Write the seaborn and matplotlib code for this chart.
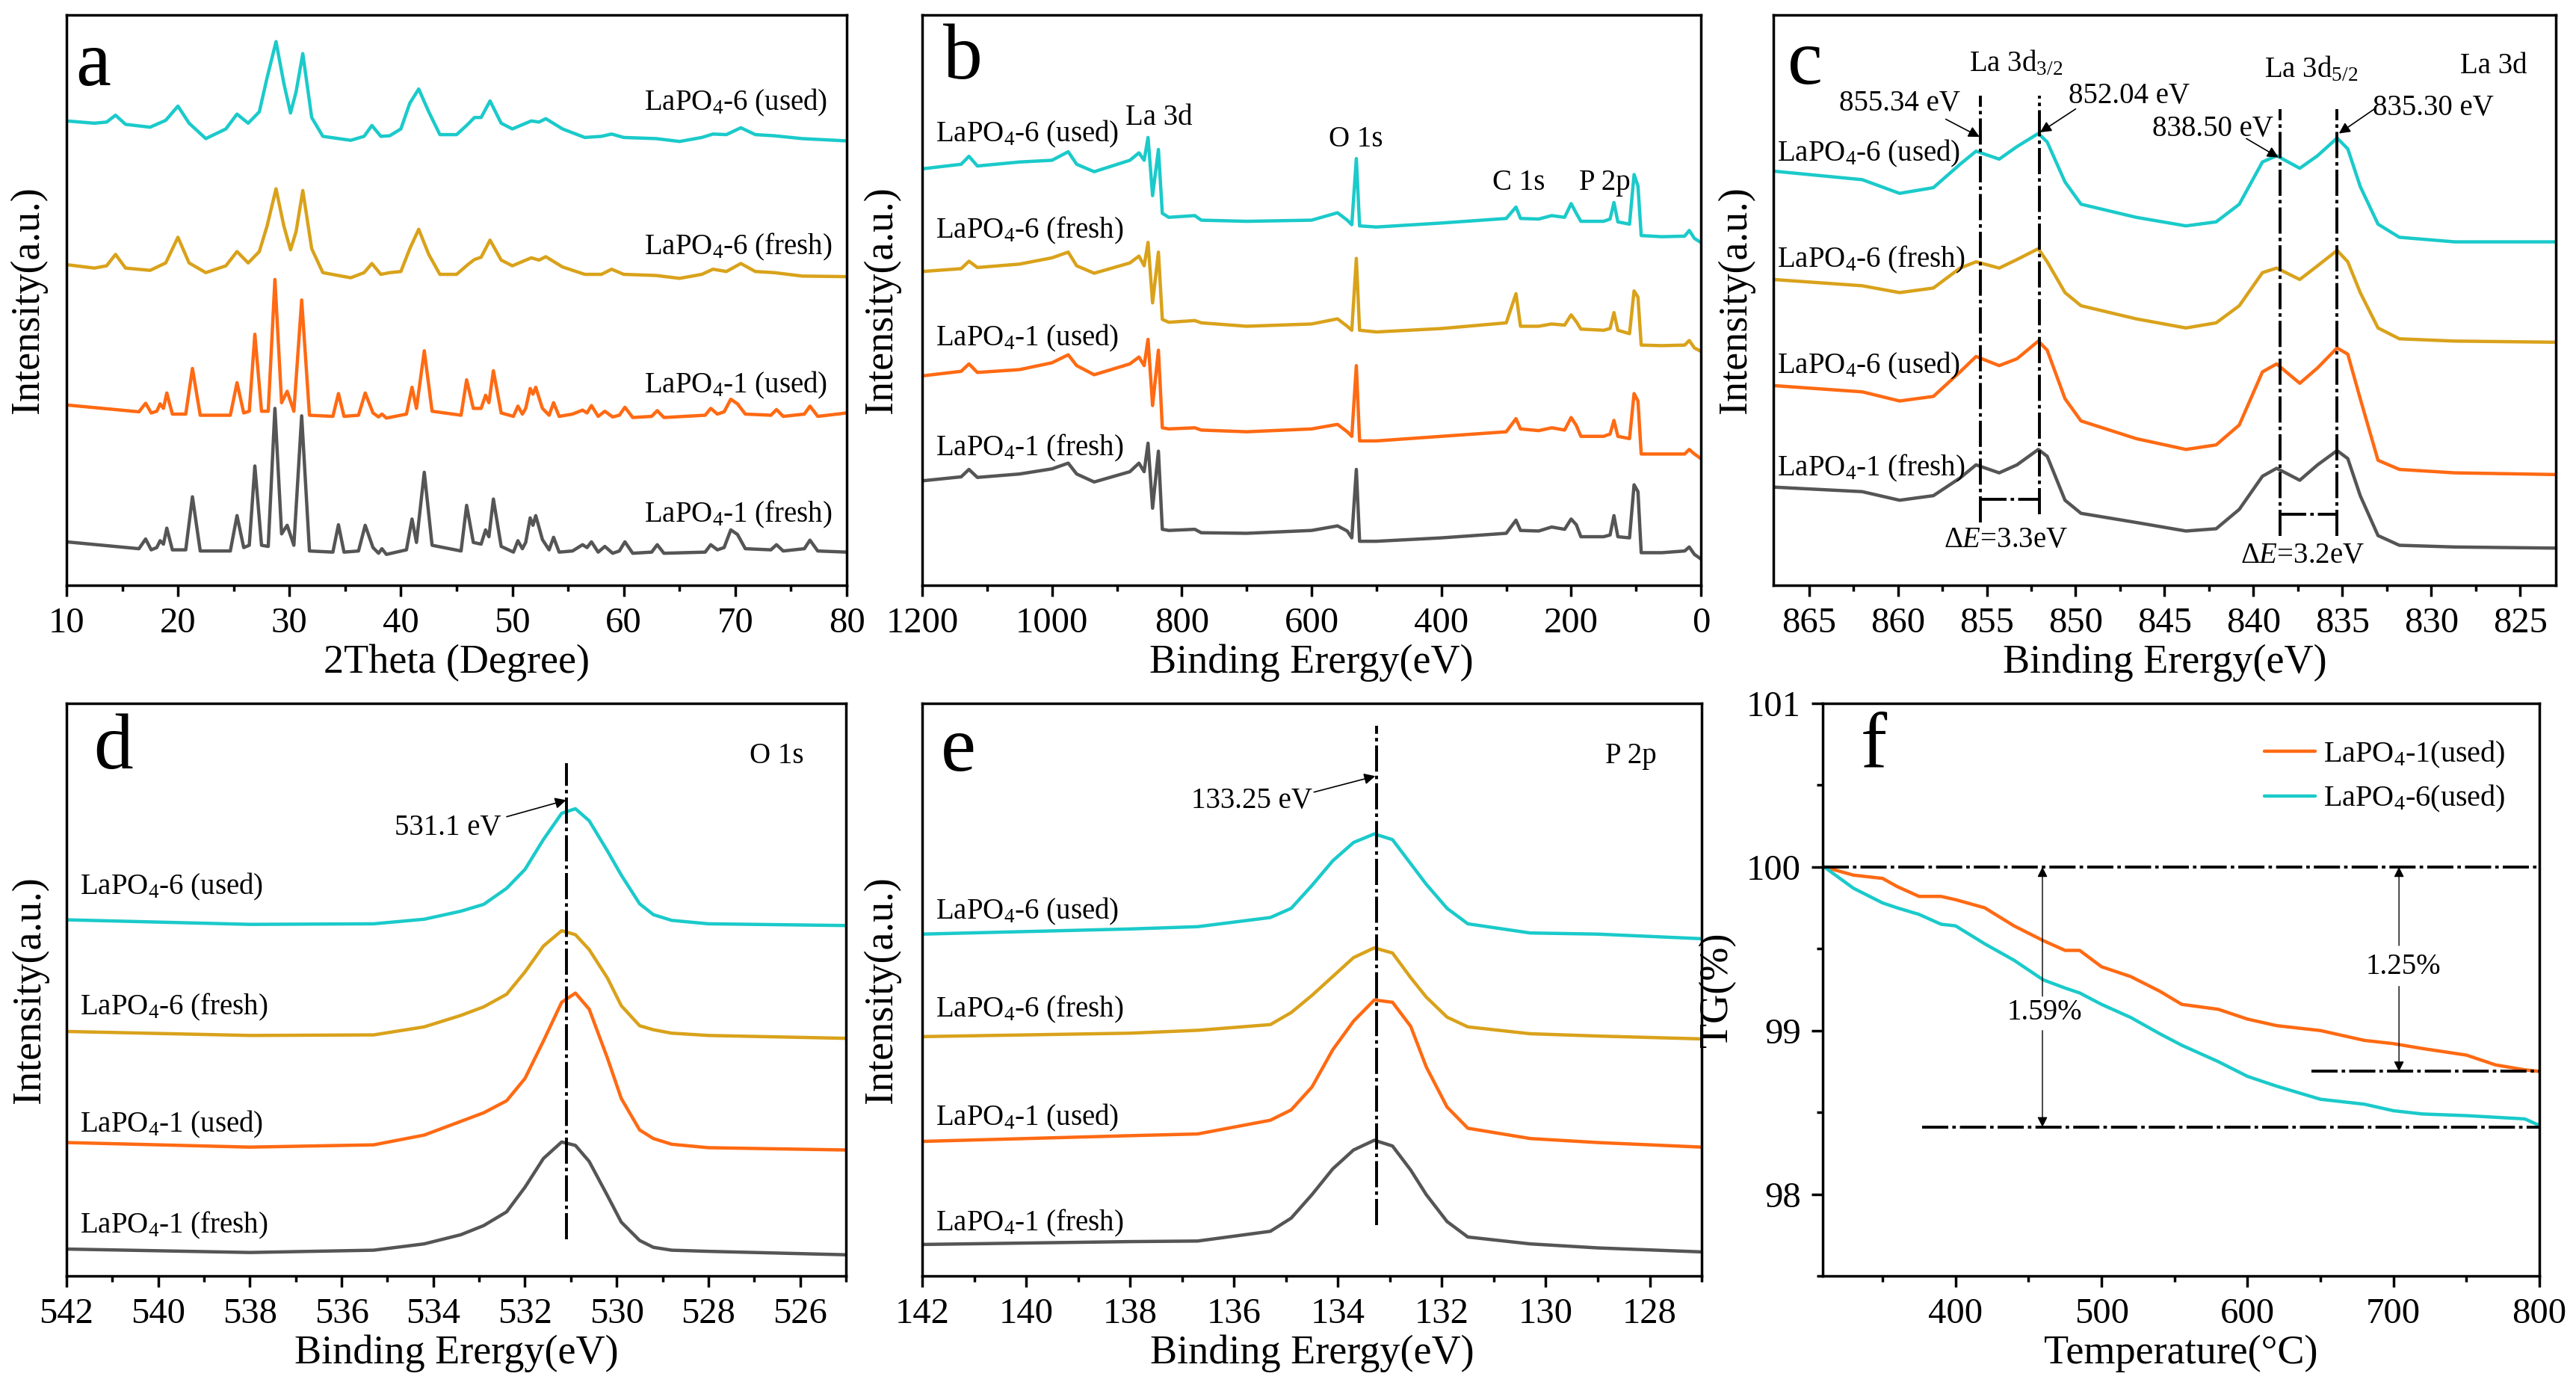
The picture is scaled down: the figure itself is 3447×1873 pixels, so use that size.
import matplotlib
matplotlib.use('Agg')
import matplotlib.pyplot as plt
import seaborn as sns
from matplotlib.ticker import MultipleLocator

# colours of the four samples
GRAY, ORANGE, GOLD, TEAL = '#555555', '#FF6A13', '#D9A21B', '#1BCACA'
LW = 3.2
DASHDOT = (0, (9, 1.4, 1.2, 1.4))

# ---------------- (a) XRD ----------------
xrd1_x = [10, 16.5, 17.1, 17.6, 18.1, 18.4, 18.7, 19.0, 19.5, 20.7,
          21.3, 22.0, 24.7, 25.3, 25.9, 26.4, 26.9, 27.5, 28.1, 28.7,
          29.3, 29.8, 30.4, 31.1, 31.8, 33.9, 34.4, 34.9, 36.2, 36.8,
          37.5, 38.0, 38.3, 38.7, 40.5, 41.0, 41.4, 42.1, 42.8, 45.4,
          45.9, 46.5, 47.2, 47.6, 47.9, 48.3, 49.0, 50.1, 50.5, 50.9,
          51.2, 51.6, 51.85, 52.1, 52.7, 53.3, 53.7, 54.2, 55.4, 56.3,
          56.7, 57.1, 57.7, 58.3, 59.0, 59.6, 60.1, 60.8, 62.5, 63.0,
          63.6, 67.3, 67.8, 68.4, 69.0, 69.6, 70.2, 70.9, 73.2, 73.7,
          74.3, 76.2, 76.7, 77.4, 80]
xrd1_fresh = [0.076, 0.064, 0.081, 0.062, 0.066, 0.078, 0.072, 0.100, 0.062, 0.062,
              0.155, 0.060, 0.060, 0.122, 0.066, 0.070, 0.209, 0.070, 0.068, 0.310,
              0.090, 0.105, 0.070, 0.297, 0.060, 0.058, 0.106, 0.058, 0.060, 0.105,
              0.066, 0.056, 0.064, 0.054, 0.062, 0.116, 0.075, 0.198, 0.070, 0.060,
              0.140, 0.075, 0.072, 0.097, 0.085, 0.151, 0.068, 0.058, 0.078, 0.064,
              0.075, 0.118, 0.105, 0.122, 0.080, 0.062, 0.084, 0.058, 0.060, 0.071,
              0.066, 0.076, 0.058, 0.068, 0.056, 0.060, 0.076, 0.056, 0.058, 0.071,
              0.056, 0.058, 0.071, 0.062, 0.066, 0.097, 0.089, 0.064, 0.062, 0.071,
              0.060, 0.064, 0.079, 0.060, 0.058]
xrd1_used = [0.316, 0.304, 0.319, 0.302, 0.305, 0.318, 0.310, 0.337, 0.300, 0.300,
             0.380, 0.298, 0.298, 0.355, 0.302, 0.305, 0.440, 0.305, 0.305, 0.536,
             0.320, 0.340, 0.305, 0.500, 0.298, 0.296, 0.336, 0.296, 0.298, 0.337,
             0.302, 0.295, 0.300, 0.293, 0.300, 0.347, 0.310, 0.411, 0.305, 0.298,
             0.360, 0.310, 0.310, 0.333, 0.320, 0.376, 0.302, 0.296, 0.314, 0.300,
             0.310, 0.345, 0.335, 0.347, 0.310, 0.298, 0.320, 0.296, 0.300, 0.307,
             0.302, 0.315, 0.296, 0.305, 0.295, 0.298, 0.312, 0.294, 0.296, 0.306,
             0.294, 0.298, 0.310, 0.300, 0.304, 0.326, 0.318, 0.300, 0.298, 0.308,
             0.296, 0.300, 0.314, 0.296, 0.302]
xrd6_x = [10, 12.5, 13.6, 14.4, 15.3, 17.5, 18.9, 20.0, 21.0, 22.5,
          24.3, 25.3, 26.3, 27.3, 28.0, 28.8, 29.5, 30.1, 30.6, 31.2,
          32.0, 33.0, 35.5, 36.7, 37.4, 38.2, 39.0, 40.0, 40.8, 41.6,
          42.5, 43.5, 45.0, 46.0, 46.6, 47.2, 48.0, 49.0, 50.0, 51.7,
          52.4, 53.0, 54.5, 56.5, 58.0, 58.9, 60.0, 62.9, 65.0, 67.0,
          68.0, 69.2, 70.5, 71.8, 73.5, 76.0, 80]
xrd6_fresh = [0.562, 0.556, 0.560, 0.580, 0.556, 0.552, 0.565, 0.610, 0.565, 0.548,
              0.560, 0.585, 0.565, 0.585, 0.630, 0.695, 0.630, 0.588, 0.620, 0.692,
              0.590, 0.548, 0.539, 0.548, 0.564, 0.545, 0.548, 0.550, 0.590, 0.624,
              0.580, 0.545, 0.545, 0.562, 0.571, 0.575, 0.605, 0.570, 0.560, 0.574,
              0.570, 0.576, 0.558, 0.545, 0.545, 0.554, 0.545, 0.543, 0.538, 0.545,
              0.554, 0.550, 0.564, 0.550, 0.548, 0.542, 0.541]
xrd6_used = [0.814, 0.810, 0.812, 0.824, 0.808, 0.803, 0.815, 0.840, 0.810, 0.783,
             0.800, 0.826, 0.810, 0.830, 0.890, 0.953, 0.880, 0.828, 0.865, 0.932,
             0.820, 0.787, 0.780, 0.787, 0.806, 0.787, 0.788, 0.800, 0.845, 0.870,
             0.830, 0.790, 0.790, 0.808, 0.820, 0.820, 0.849, 0.810, 0.800, 0.814,
             0.812, 0.818, 0.800, 0.785, 0.787, 0.791, 0.785, 0.783, 0.778, 0.785,
             0.791, 0.790, 0.802, 0.790, 0.788, 0.783, 0.779]

# ---------------- (b) XPS survey ----------------
survey_x = [1200, 1140, 1128, 1115, 1050, 1000, 975, 962, 935, 880,
            866, 858, 852, 845, 836, 830, 820, 780, 770, 700,
            600, 560, 545, 538, 531, 526, 500, 400, 300, 285,
            278, 250, 230, 210, 200, 192, 185, 150, 140, 134,
            128, 110, 103, 97, 92, 60, 25, 18, 10, 0]
survey_6used = [0.730, 0.738, 0.752, 0.735, 0.742, 0.745, 0.760, 0.738, 0.725, 0.745,
                0.758, 0.745, 0.785, 0.683, 0.764, 0.652, 0.645, 0.648, 0.640, 0.638,
                0.640, 0.653, 0.640, 0.632, 0.748, 0.630, 0.628, 0.635, 0.643, 0.663,
                0.643, 0.642, 0.648, 0.645, 0.669, 0.652, 0.638, 0.638, 0.642, 0.671,
                0.637, 0.633, 0.720, 0.700, 0.613, 0.611, 0.612, 0.622, 0.608, 0.601]
survey_6fresh = [0.550, 0.555, 0.568, 0.557, 0.563, 0.574, 0.584, 0.560, 0.547, 0.565,
                 0.577, 0.560, 0.601, 0.495, 0.584, 0.466, 0.461, 0.464, 0.460, 0.454,
                 0.458, 0.467, 0.454, 0.447, 0.573, 0.447, 0.444, 0.450, 0.460, 0.511,
                 0.454, 0.454, 0.458, 0.456, 0.474, 0.462, 0.449, 0.447, 0.450, 0.478,
                 0.447, 0.441, 0.516, 0.505, 0.421, 0.420, 0.421, 0.429, 0.416, 0.410]
survey_1used = [0.367, 0.375, 0.388, 0.373, 0.378, 0.390, 0.404, 0.385, 0.369, 0.388,
                0.400, 0.385, 0.431, 0.315, 0.412, 0.276, 0.274, 0.276, 0.272, 0.269,
                0.274, 0.282, 0.269, 0.261, 0.385, 0.253, 0.253, 0.261, 0.269, 0.292,
                0.274, 0.271, 0.276, 0.272, 0.294, 0.280, 0.261, 0.261, 0.265, 0.289,
                0.261, 0.257, 0.336, 0.323, 0.230, 0.230, 0.230, 0.238, 0.230, 0.222]
survey_1fresh = [0.183, 0.190, 0.203, 0.189, 0.195, 0.204, 0.214, 0.195, 0.181, 0.199,
                 0.214, 0.199, 0.249, 0.135, 0.235, 0.098, 0.096, 0.098, 0.092, 0.091,
                 0.096, 0.104, 0.095, 0.083, 0.203, 0.077, 0.077, 0.083, 0.091, 0.114,
                 0.096, 0.095, 0.102, 0.098, 0.116, 0.106, 0.085, 0.085, 0.088, 0.122,
                 0.085, 0.083, 0.176, 0.164, 0.057, 0.057, 0.060, 0.067, 0.054, 0.046]

# ---------------- (c) La 3d ----------------
la_x = [867, 862, 859.9, 858, 856.5, 855.6, 854.3, 853.3, 852.1, 851.6,
        850.6, 849.7, 846.6, 843.8, 842.1, 840.8, 839.5, 838.7, 837.4, 836.4,
        835.3, 834.7, 834.0, 833.0, 831.8, 828.7, 823]
la_6used = [0.726, 0.711, 0.687, 0.697, 0.738, 0.761, 0.747, 0.769, 0.792, 0.777,
            0.707, 0.668, 0.645, 0.630, 0.637, 0.668, 0.742, 0.753, 0.731, 0.753,
            0.784, 0.765, 0.699, 0.633, 0.610, 0.602, 0.602]
la_6fresh = [0.536, 0.525, 0.513, 0.521, 0.556, 0.567, 0.556, 0.571, 0.590, 0.567,
             0.513, 0.490, 0.467, 0.451, 0.460, 0.490, 0.548, 0.556, 0.536, 0.560,
             0.587, 0.567, 0.513, 0.451, 0.432, 0.428, 0.426]
la_1used = [0.350, 0.339, 0.323, 0.331, 0.374, 0.401, 0.385, 0.397, 0.428, 0.412,
            0.327, 0.288, 0.257, 0.238, 0.246, 0.281, 0.374, 0.388, 0.354, 0.381,
            0.416, 0.405, 0.327, 0.219, 0.203, 0.197, 0.194]
la_1fresh = [0.172, 0.164, 0.149, 0.157, 0.188, 0.211, 0.197, 0.211, 0.238, 0.226,
             0.149, 0.126, 0.110, 0.095, 0.099, 0.133, 0.191, 0.205, 0.184, 0.211,
             0.236, 0.222, 0.157, 0.087, 0.070, 0.067, 0.065]

# ---------------- (d) O 1s ----------------
o_x = [542, 538, 535.3, 534.2, 533.4, 532.9, 532.4, 532.0, 531.6, 531.2,
       530.9, 530.6, 530.2, 529.9, 529.5, 529.2, 528.8, 528.0, 525]
o_6used = [0.622, 0.614, 0.615, 0.623, 0.637, 0.649, 0.677, 0.710, 0.762, 0.808,
           0.816, 0.795, 0.742, 0.700, 0.650, 0.631, 0.621, 0.615, 0.612]
o_6fresh = [0.427, 0.420, 0.421, 0.435, 0.455, 0.470, 0.492, 0.531, 0.576, 0.603,
            0.596, 0.570, 0.520, 0.472, 0.437, 0.430, 0.424, 0.420, 0.415]
o_1used = [0.233, 0.225, 0.229, 0.246, 0.270, 0.285, 0.306, 0.345, 0.410, 0.478,
           0.494, 0.466, 0.380, 0.310, 0.255, 0.240, 0.230, 0.224, 0.220]
o_1fresh = [0.047, 0.041, 0.045, 0.056, 0.072, 0.088, 0.112, 0.155, 0.205, 0.234,
            0.228, 0.200, 0.140, 0.094, 0.062, 0.050, 0.045, 0.043, 0.037]

# ---------------- (e) P 2p ----------------
p_x = [142, 138, 136.7, 135.3, 134.9, 134.5, 134.1, 133.7, 133.3, 132.95,
       132.6, 132.3, 131.9, 131.5, 130.3, 129, 127]
p_6used = [0.597, 0.606, 0.610, 0.626, 0.642, 0.682, 0.725, 0.757, 0.772, 0.762,
           0.720, 0.684, 0.642, 0.615, 0.599, 0.597, 0.589]
p_6fresh = [0.418, 0.424, 0.429, 0.439, 0.460, 0.490, 0.523, 0.556, 0.573, 0.564,
            0.521, 0.487, 0.452, 0.435, 0.423, 0.419, 0.414]
p_1used = [0.235, 0.245, 0.248, 0.272, 0.290, 0.330, 0.395, 0.445, 0.482, 0.478,
           0.436, 0.365, 0.295, 0.258, 0.240, 0.233, 0.225]
p_1fresh = [0.055, 0.060, 0.061, 0.078, 0.101, 0.142, 0.187, 0.220, 0.237, 0.227,
            0.185, 0.142, 0.095, 0.068, 0.056, 0.049, 0.042]

# ---------------- (f) TG ----------------
tg_temp = [310, 330, 350, 360, 375, 390, 400, 420, 440, 460, 475, 485, 500, 520,
           540, 555, 580, 600, 620, 650, 680, 700, 720, 750, 770, 790, 800]
tg_1used = [100.0, 99.95, 99.93, 99.88, 99.82, 99.82, 99.80, 99.75, 99.64, 99.55,
            99.49, 99.49, 99.39, 99.33, 99.24, 99.16, 99.13, 99.07, 99.03, 99.00,
            98.94, 98.92, 98.89, 98.85, 98.79, 98.76, 98.75]
tg_6used = [100.0, 99.87, 99.78, 99.75, 99.71, 99.65, 99.64, 99.53, 99.43, 99.31,
            99.26, 99.23, 99.16, 99.08, 98.98, 98.91, 98.81, 98.72, 98.66, 98.58,
            98.55, 98.51, 98.49, 98.48, 98.47, 98.46, 98.42]

LBL = ['LaPO$_4$-6 (used)', 'LaPO$_4$-6 (fresh)', 'LaPO$_4$-1 (used)', 'LaPO$_4$-1 (fresh)']

sns.set_theme(style='ticks')
plt.rcParams.update({
    'font.family': ['Liberation Serif', 'DejaVu Serif'],
    'mathtext.fontset': 'custom',
    'mathtext.rm': 'Liberation Serif',
    'mathtext.it': 'Liberation Serif:italic',
    'axes.linewidth': 2.5,
    'axes.edgecolor': 'black',
    'text.color': 'black',
    'axes.labelcolor': 'black',
    'xtick.color': 'black',
    'ytick.color': 'black',
})

TICK_FS, LABEL_FS, TXT_FS, LETTER_FS = 35, 39, 28, 76
REF_LW = 2.8

fig = plt.figure(figsize=(34.48, 18.73), dpi=100)
fig.patch.set_facecolor('white')


def setup(ax, xlim, major, minor, xlabel, ylabel='Intensity(a.u.)', labelpad=19, spectra=True):
    ax.set_xlim(*xlim)
    ax.xaxis.set_major_locator(MultipleLocator(major))
    ax.xaxis.set_minor_locator(MultipleLocator(minor))
    ax.tick_params(axis='both', which='major', direction='out', length=11, width=2.5,
                   labelsize=TICK_FS, pad=10, top=False, right=False)
    ax.tick_params(axis='both', which='minor', direction='out', length=6, width=2.5,
                   top=False, right=False)
    if spectra:
        ax.set_ylim(0, 1)
        ax.set_yticks([])
        ax.yaxis.set_minor_locator(plt.NullLocator())
    ax.set_xlabel(xlabel, fontsize=LABEL_FS, labelpad=4)
    ax.set_ylabel(ylabel, fontsize=LABEL_FS, labelpad=labelpad)
    for s in ax.spines.values():
        s.set_visible(True)
        s.set_linewidth(2.5)
    ax.set_facecolor('white')
    ax.grid(False)


def curves(ax, x, ys):
    for y, c in zip(ys, [TEAL, GOLD, ORANGE, GRAY]):
        sns.lineplot(x=x, y=y, ax=ax, color=c, linewidth=LW, sort=False,
                     estimator=None, legend=False)


def labels(ax, x, ys, texts=LBL):
    for y, t in zip(ys, texts):
        ax.text(x, y, t, fontsize=TXT_FS, ha='left', va='center')


def arrow(ax, start, tip, lw=1.2, ms=22):
    ax.annotate('', xy=tip, xytext=start,
                arrowprops=dict(arrowstyle='-|>', color='black', lw=lw,
                                mutation_scale=ms, shrinkA=0, shrinkB=0))


def refline(ax, xs, ys):
    ax.plot(xs, ys, color='black', lw=REF_LW, ls=DASHDOT)


row1_b, row2_b, h1, h2 = 0.582, 0.0886, 0.4074, 0.409

# (a)
ax = fig.add_axes([0.0258, row1_b, 0.3028, h1])
sns.lineplot(x=xrd6_x, y=xrd6_used, ax=ax, color=TEAL, linewidth=LW, sort=False, estimator=None)
sns.lineplot(x=xrd6_x, y=xrd6_fresh, ax=ax, color=GOLD, linewidth=LW, sort=False, estimator=None)
sns.lineplot(x=xrd1_x, y=xrd1_used, ax=ax, color=ORANGE, linewidth=LW, sort=False, estimator=None)
sns.lineplot(x=xrd1_x, y=xrd1_fresh, ax=ax, color=GRAY, linewidth=LW, sort=False, estimator=None)
setup(ax, (10, 80), 10, 5, '2Theta (Degree)')
labels(ax, 61.8, [0.846, 0.593, 0.35, 0.124])
ax.text(12.4, 0.91, 'a', fontsize=LETTER_FS, ha='center', va='center')

# (b)
ax = fig.add_axes([0.3579, row1_b, 0.3022, h1])
curves(ax, survey_x, [survey_6used, survey_6fresh, survey_1used, survey_1fresh])
setup(ax, (1200, 0), 200, 100, 'Binding Erergy(eV)', labelpad=21)
labels(ax, 1179, [0.791, 0.622, 0.433, 0.24])
ax.text(887, 0.82, 'La 3d', fontsize=TXT_FS, ha='left', va='center')
ax.text(532, 0.782, 'O 1s', fontsize=TXT_FS, ha='center', va='center')
ax.text(281, 0.706, 'C 1s', fontsize=TXT_FS, ha='center', va='center')
ax.text(148, 0.706, 'P 2p', fontsize=TXT_FS, ha='center', va='center')
ax.text(1137, 0.922, 'b', fontsize=LETTER_FS, ha='center', va='center')

# (c)
ax = fig.add_axes([0.6882, row1_b, 0.3037, h1])
curves(ax, la_x, [la_6used, la_6fresh, la_1used, la_1fresh])
setup(ax, (867, 823), 5, 2.5, 'Binding Erergy(eV)', labelpad=18)
labels(ax, 866.8, [0.757, 0.571, 0.385, 0.205],
       ['LaPO$_4$-6 (used)', 'LaPO$_4$-6 (fresh)', 'LaPO$_4$-6 (used)', 'LaPO$_4$-1 (fresh)'])
for xv, y0, y1 in [(855.34, 0.11, 0.858), (852.04, 0.124, 0.858),
                   (838.50, 0.087, 0.835), (835.30, 0.087, 0.835)]:
    refline(ax, [xv, xv], [y0, y1])
refline(ax, [855.34, 852.04], [0.151, 0.151])
refline(ax, [838.50, 835.30], [0.124, 0.124])
ax.text(856.0, 0.901, 'La 3d$_{3/2}$', fontsize=TXT_FS, ha='left', va='baseline')
ax.text(839.4, 0.891, 'La 3d$_{5/2}$', fontsize=TXT_FS, ha='left', va='baseline')
ax.text(828.4, 0.897, 'La 3d', fontsize=TXT_FS, ha='left', va='baseline')
ax.text(863.3, 0.845, '855.34 eV', fontsize=TXT_FS, ha='left', va='center')
ax.text(850.4, 0.858, '852.04 eV', fontsize=TXT_FS, ha='left', va='center')
ax.text(845.7, 0.800, '838.50 eV', fontsize=TXT_FS, ha='left', va='center')
ax.text(833.3, 0.836, '835.30 eV', fontsize=TXT_FS, ha='left', va='center')
arrow(ax, (857.3, 0.817), (855.4, 0.786))
arrow(ax, (850.0, 0.835), (852.0, 0.794))
arrow(ax, (840.4, 0.783), (838.6, 0.750))
arrow(ax, (833.2, 0.835), (835.2, 0.792))
ax.text(857.4, 0.079, 'Δ$\\mathit{E}$=3.3eV', fontsize=TXT_FS, ha='left', va='center')
ax.text(840.75, 0.052, 'Δ$\\mathit{E}$=3.2eV', fontsize=TXT_FS, ha='left', va='center')
ax.text(865.2, 0.912, 'c', fontsize=LETTER_FS, ha='center', va='center')

# (d)
ax = fig.add_axes([0.0258, row2_b, 0.3025, h2])
curves(ax, o_x, [o_6used, o_6fresh, o_1used, o_1fresh])
setup(ax, (542, 525), 2, 1, 'Binding Erergy(eV)', labelpad=17)
labels(ax, 541.7, [0.68, 0.47, 0.265, 0.088])
refline(ax, [531.1, 531.1], [0.064, 0.896])
ax.text(534.85, 0.783, '531.1 eV', fontsize=TXT_FS, ha='left', va='center')
arrow(ax, (532.4, 0.802), (531.1, 0.831))
ax.text(527.1, 0.908, 'O 1s', fontsize=TXT_FS, ha='left', va='center')
ax.text(540.98, 0.92, 'd', fontsize=LETTER_FS, ha='center', va='center')

# (e)
ax = fig.add_axes([0.3579, row2_b, 0.3025, h2])
curves(ax, p_x, [p_6used, p_6fresh, p_1used, p_1fresh])
setup(ax, (142, 127), 2, 1, 'Binding Erergy(eV)', labelpad=21)
labels(ax, 141.74, [0.637, 0.465, 0.276, 0.092])
refline(ax, [133.25, 133.25], [0.089, 0.961])
ax.text(136.83, 0.83, '133.25 eV', fontsize=TXT_FS, ha='left', va='center')
arrow(ax, (134.46, 0.845), (133.28, 0.873))
ax.text(128.85, 0.908, 'P 2p', fontsize=TXT_FS, ha='left', va='center')
ax.text(141.3, 0.916, 'e', fontsize=LETTER_FS, ha='center', va='center')

# (f)
ax = fig.add_axes([0.7074, row2_b, 0.2781, h2])
sns.lineplot(x=tg_temp, y=tg_1used, ax=ax, color=ORANGE, linewidth=LW, sort=False,
             estimator=None, label='LaPO$_4$-1(used)')
sns.lineplot(x=tg_temp, y=tg_6used, ax=ax, color=TEAL, linewidth=LW, sort=False,
             estimator=None, label='LaPO$_4$-6(used)')
setup(ax, (309, 800), 100, 50, 'Temperature(°C)', ylabel='TG(%)', labelpad=10, spectra=False)
ax.set_ylim(97.5, 101)
ax.yaxis.set_major_locator(MultipleLocator(1))
ax.yaxis.set_minor_locator(MultipleLocator(0.5))
refline(ax, [309, 800], [100, 100])
refline(ax, [644, 800], [98.75, 98.75])
refline(ax, [377, 800], [98.41, 98.41])
arrow(ax, (459.5, 99.21), (459.5, 100.0), lw=1.0, ms=20)
arrow(ax, (459.5, 99.00), (459.5, 98.41), lw=1.0, ms=20)
ax.text(461, 99.11, '1.59%', fontsize=TXT_FS, ha='center', va='center')
arrow(ax, (703.8, 99.52), (703.8, 100.0), lw=1.0, ms=20)
arrow(ax, (703.8, 99.27), (703.8, 98.75), lw=1.0, ms=20)
ax.text(706.8, 99.39, '1.25%', fontsize=TXT_FS, ha='center', va='center')
ax.legend(loc='upper right', bbox_to_anchor=(0.99, 0.985), frameon=False,
          fontsize=29, handlelength=1.7, handletextpad=0.25, labelspacing=0.45)
ax.text(344, 100.73, 'f', fontsize=LETTER_FS, ha='center', va='center')

fig.savefig('out.png', dpi=100, facecolor='white')
